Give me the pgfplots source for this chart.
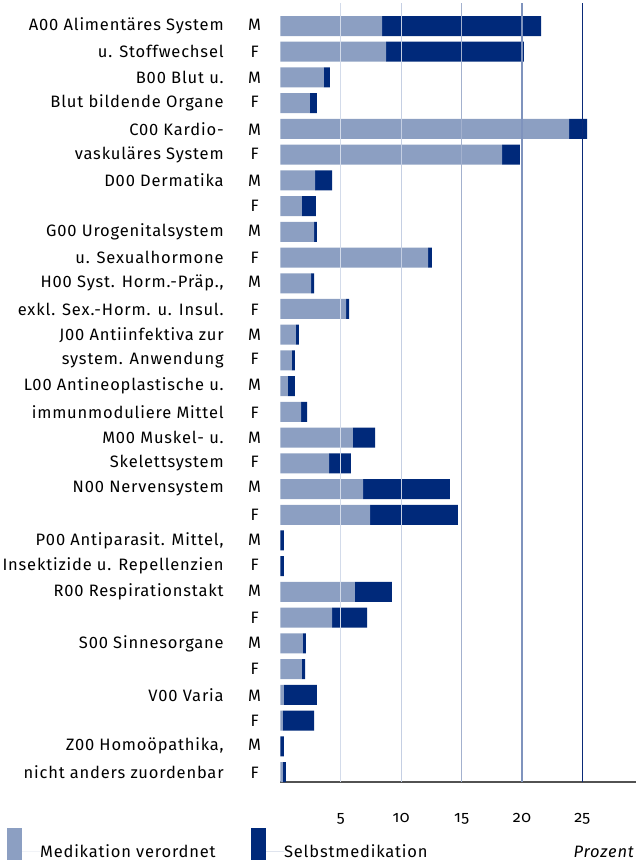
\documentclass[border=0pt]{standalone}
\usepackage{pgfplots}
\usepackage{pgfplotstable}
\pgfplotsset{compat=1.18}
\usepackage{fontspec}
\setmainfont{Fira Sans}[LetterSpace=5]
\newfontfamily\osf{Fira Sans}[Numbers=OldStyle,LetterSpace=3]
\definecolor{light}{HTML}{8C9FC2}
\definecolor{dark}{HTML}{00297A}
\definecolor{g5}{HTML}{D3DBEA}
\definecolor{g10}{HTML}{C5CFE3}
\definecolor{g15}{HTML}{A3B1CE}
\definecolor{g20}{HTML}{7F93BD}
\definecolor{g25}{HTML}{0A2A78}
\newcommand{\lbl}[2]{#1\hspace{23pt}\makebox[16pt][c]{#2}}
\pgfplotstableread{
y v s
1 8.41 13.17
2 8.74 11.43
3 3.60 0.50
4 2.44 0.58
5 23.90 1.50
6 18.35 1.49
7 2.86 1.41
8 1.78 1.16
9 2.78 0.24
10 12.22 0.33
11 2.53 0.25
12 5.43 0.25
13 1.28 0.25
14 0.95 0.25
15 0.62 0.58
16 1.70 0.50
17 6.00 1.83
18 4.02 1.82
19 6.84 7.20
20 7.42 7.28
21 0.00 0.27
22 0.00 0.27
23 6.17 3.06
24 4.27 2.90
25 1.86 0.25
26 1.78 0.25
27 0.29 2.73
28 0.20 2.58
29 0.00 0.27
30 0.20 0.25
}\data
\begin{document}
\begin{tikzpicture}
\begin{axis}[
  at={(280.5pt,-3pt)}, anchor=north west,
  scale only axis, width=355.5pt, height=779pt,
  xbar stacked, bar width=20pt, bar shift=0pt,
  xmin=0, xmax=29.45, ymin=0.1059, ymax=30.389,
  y dir=reverse,
  axis x line=bottom, axis y line=left,
  x axis line style={draw=black!68, line width=1.5pt, -},
  y axis line style={draw=none},
  xtick={5,10,15,20,25},
  xtick style={draw=none}, ytick style={draw=none},
  /pgf/number format/assume math mode=true,
  xticklabel style={font=\osf\fontsize{16}{19}\selectfont, anchor=base, inner sep=0pt, yshift=-38pt},
  ytick={1,...,30},
  yticklabels={
    {\lbl{A00 Alimentäres System}{M}},
    {\lbl{u. Stoffwechsel}{F}},
    {\lbl{B00 Blut u.}{M}},
    {\lbl{Blut bildende Organe}{F}},
    {\lbl{C00 Kardio-}{M}},
    {\lbl{vaskuläres System}{F}},
    {\lbl{D00 Dermatika}{M}},
    {\lbl{}{F}},
    {\lbl{G00 Urogenitalsystem}{M}},
    {\lbl{u. Sexualhormone}{F}},
    {\lbl{H00 Syst. Horm.-Präp.,}{M}},
    {\lbl{exkl. Sex.-Horm. u. Insul.}{F}},
    {\lbl{J00 Antiinfektiva zur}{M}},
    {\lbl{system. Anwendung}{F}},
    {\lbl{L00 Antineoplastische u.}{M}},
    {\lbl{immunmoduliere Mittel}{F}},
    {\lbl{M00 Muskel- u.}{M}},
    {\lbl{Skelettsystem}{F}},
    {\lbl{N00 Nervensystem}{M}},
    {\lbl{}{F}},
    {\lbl{P00 Antiparasit. Mittel,}{M}},
    {\lbl{Insektizide u. Repellenzien}{F}},
    {\lbl{R00 Respirationstakt}{M}},
    {\lbl{}{F}},
    {\lbl{S00 Sinnesorgane}{M}},
    {\lbl{}{F}},
    {\lbl{V00 Varia}{M}},
    {\lbl{}{F}},
    {\lbl{Z00 Homoöpathika,}{M}},
    {\lbl{nicht anders zuordenbar}{F}}
  },
  yticklabel style={font=\fontsize{16.5}{19}\selectfont, anchor=east, inner sep=0pt, xshift=-15.5pt},
  xlabel={\itshape Prozent},
  xlabel style={at={(axis description cs:1,0)}, anchor=base east, inner sep=0pt, yshift=-75pt, xshift=-2pt, font=\fontsize{16.5}{19}\selectfont},
  legend columns=2,
  legend style={draw=none, fill=none, inner sep=0pt, outer sep=0pt,
    at={(axis description cs:-0.769,-0.059)}, anchor=north west,
    font=\fontsize{16.5}{19}\selectfont,
    nodes={inner sep=0pt},
    /tikz/every even column/.style={column sep=0pt}},
  legend image code/.code={\fill[#1,draw=none] (0pt,-8pt) rectangle (15pt,24pt); \path (0pt,0pt) -- (33pt,0pt);},
  clip=false,
]
\draw[g5, line width=1.2pt] (axis cs:5,0.1059) -- (axis cs:5,30.389);
\draw[g10, line width=1.2pt] (axis cs:10,0.1059) -- (axis cs:10,30.389);
\draw[g15, line width=1.2pt] (axis cs:15,0.1059) -- (axis cs:15,30.389);
\draw[g20, line width=1.2pt] (axis cs:20,0.1059) -- (axis cs:20,30.389);
\draw[g25, line width=1.2pt] (axis cs:25,0.1059) -- (axis cs:25,30.389);
\addplot[fill=light, draw=none] table[x=v, y=y]{\data};
\addlegendentry{\makebox[211pt][l]{Medikation verordnet}}
\addplot[fill=dark, draw=none] table[x=s, y=y]{\data};
\addlegendentry{Selbstmedikation}
\end{axis}
\pgfresetboundingbox
\path[use as bounding box] (0pt,0pt) rectangle (636pt,-863pt);
\end{tikzpicture}
\end{document}
